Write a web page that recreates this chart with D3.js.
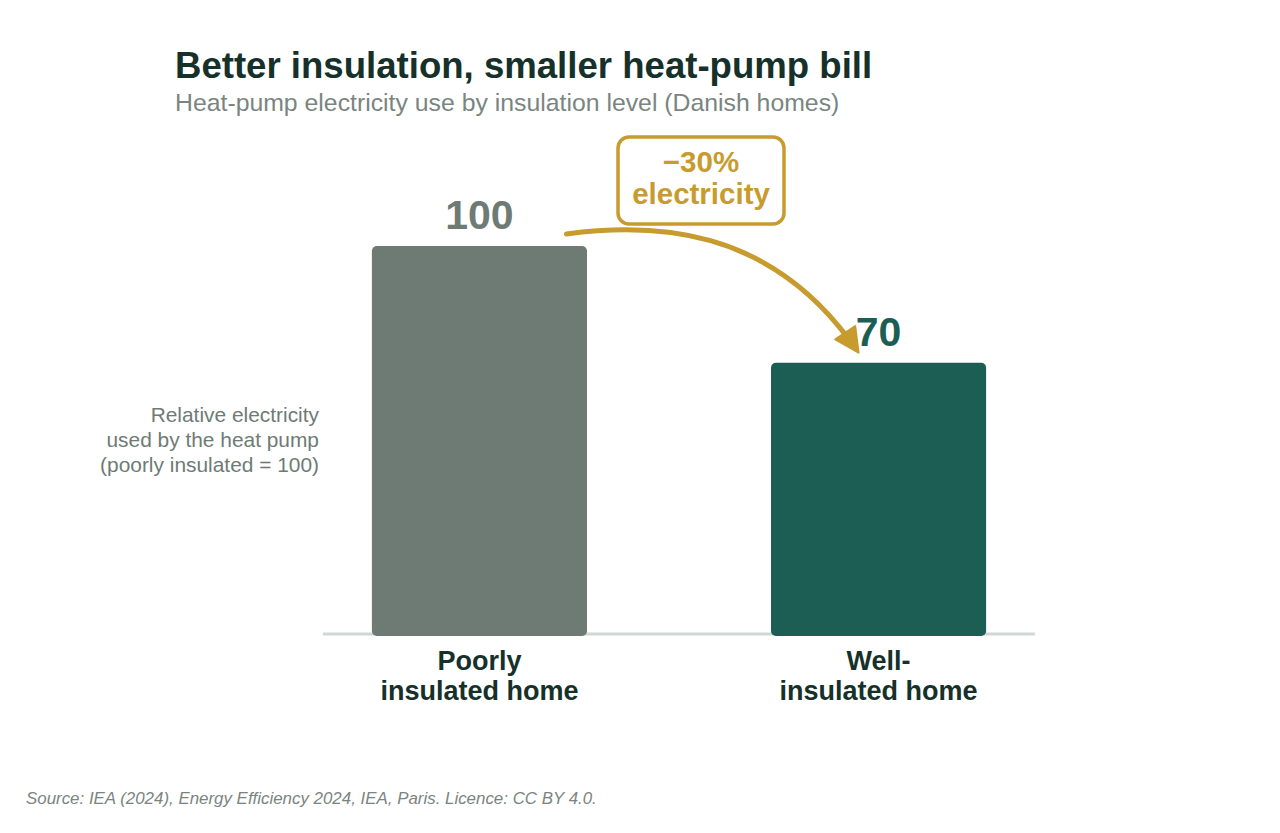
<!DOCTYPE html>
<html>
<head>
<meta charset="utf-8">
<script src="https://cdn.jsdelivr.net/npm/d3@7"></script>
<style>
html,body{margin:0;padding:0;background:#fff;}
svg{display:block;font-family:"Liberation Sans",Arial,sans-serif;}
</style>
</head>
<body>
<svg id="chart" width="1280" height="833"></svg>
<script>
const categories = ["Poorly insulated home", "Well-insulated home"];
const categoryLines = [["Poorly", "insulated home"], ["Well-", "insulated home"]];
const values = [100, 70];
const valueLabels = ["100", "70"];
const barColors = ["#6e7b75", "#1c5e54"];
const changeLabel = ["\u221230%", "electricity"];
const titleText = "Better insulation, smaller heat-pump bill";
const subtitleText = "Heat-pump electricity use by insulation level (Danish homes)";
const yLabelLines = ["Relative electricity", "used by the heat pump", "(poorly insulated = 100)"];
const sourceText = "Source: IEA (2024), Energy Efficiency 2024, IEA, Paris. Licence: CC BY 4.0.";

const svg = d3.select("#chart");
const gold = "#c89b2f";

const x = d3.scaleBand().domain(categories).range([323, 1035]).paddingInner(0.461).paddingOuter(0.1225);
const y = d3.scaleLinear().domain([0, 100]).range([635, 246]);

// title
svg.append("text").attr("x", 175).attr("y", 78).attr("font-size", 36.6).attr("font-weight", "bold")
  .attr("fill", "#16302a").text(titleText);
svg.append("text").attr("x", 175).attr("y", 111).attr("font-size", 24.8)
  .attr("fill", "#7a8580").text(subtitleText);

// baseline
svg.append("line").attr("x1", 323).attr("x2", 1035).attr("y1", y(0)-1).attr("y2", y(0)-1)
  .attr("stroke", "#cfd8d5").attr("stroke-width", 3);

// bars
svg.selectAll("rect.bar").data(values).join("rect").attr("class", "bar")
  .attr("x", (d, i) => x(categories[i]))
  .attr("width", x.bandwidth())
  .attr("y", d => y(d))
  .attr("height", d => y(0) - y(d) + 1)
  .attr("rx", 5).attr("ry", 5)
  .attr("fill", (d, i) => barColors[i]);

// value labels
svg.selectAll("text.val").data(values).join("text").attr("class", "val")
  .attr("x", (d, i) => x(categories[i]) + x.bandwidth() / 2)
  .attr("y", d => y(d) - 17)
  .attr("text-anchor", "middle").attr("font-size", 41).attr("font-weight", "bold")
  .attr("fill", (d, i) => barColors[i])
  .text((d, i) => valueLabels[i]);

// category labels
categories.forEach((c, i) => {
  const t = svg.append("text").attr("text-anchor", "middle").attr("font-size", 27).attr("font-weight", "bold")
    .attr("fill", "#16302a");
  categoryLines[i].forEach((l, j) => {
    t.append("tspan").attr("x", x(c) + x.bandwidth() / 2).attr("y", 670 + j * 30).text(l);
  });
});

// y label
const yl = svg.append("text").attr("text-anchor", "end").attr("font-size", 20.9).attr("fill", "#6e7b75");
yLabelLines.forEach((l, j) => {
  yl.append("tspan").attr("x", 319).attr("y", 422 + j * 25).text(l);
});

// arrow
const x0 = x(categories[0]) + x.bandwidth() / 2, x1 = x(categories[1]) + x.bandwidth() / 2;
const sx = x0 + 87, sy = y(values[0]) - 12;
const ex = x1 - 22, ey = y(values[1]) - 12;
svg.append("path")
  .attr("d", `M${sx},${sy} C${sx + 90},${sy - 12} ${ex - 90},${sy - 5} ${ex - 8},${ey - 12}`)
  .attr("fill", "none").attr("stroke", gold).attr("stroke-width", 5).attr("stroke-linecap", "round");
// arrowhead
const ang = Math.atan2(12, 8);
const L = 24, W = 12;
const tipx = ex + 2, tipy = ey + 2;
const bx = tipx - L * Math.cos(ang), by = tipy - L * Math.sin(ang);
const px = -Math.sin(ang), py = Math.cos(ang);
svg.append("path")
  .attr("d", `M${tipx},${tipy} L${bx + px * W},${by + py * W} L${bx - px * W},${by - py * W} Z`)
  .attr("fill", gold).attr("stroke", gold).attr("stroke-width", 2).attr("stroke-linejoin", "round");

// change box
const bcx = (x0 + x1) / 2 + 22;
svg.append("rect").attr("x", bcx - 83).attr("y", 137).attr("width", 166).attr("height", 87)
  .attr("rx", 11).attr("fill", "#fff").attr("stroke", gold).attr("stroke-width", 3.5);
const ct = svg.append("text").attr("text-anchor", "middle").attr("font-size", 29.5).attr("font-weight", "bold").attr("fill", gold);
changeLabel.forEach((l, j) => {
  ct.append("tspan").attr("x", bcx).attr("y", 172 + j * 32).text(l);
});

// source
svg.append("text").attr("x", 26).attr("y", 804).attr("font-size", 16.9).attr("font-style", "italic")
  .attr("fill", "#7a8580").text(sourceText);
</script>
</body>
</html>
